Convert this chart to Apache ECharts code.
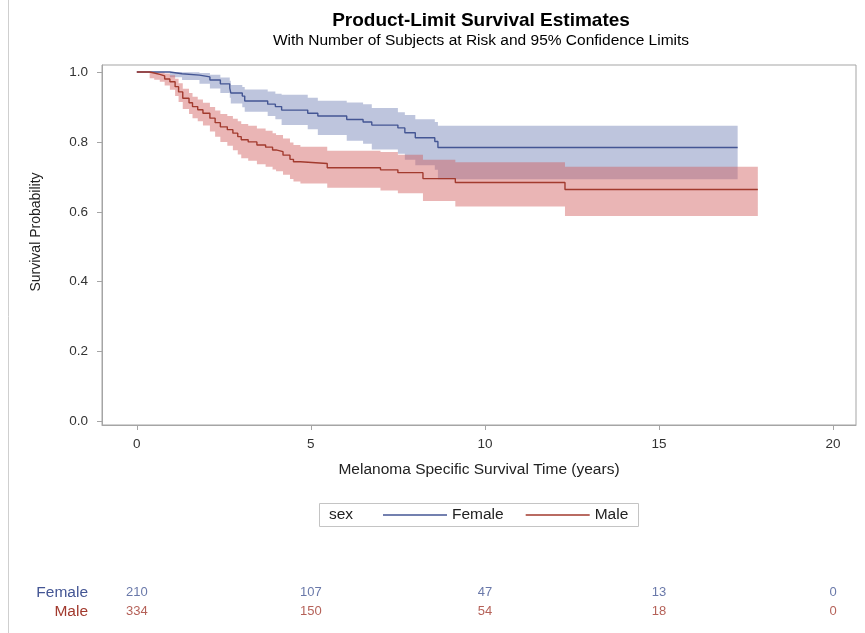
<!DOCTYPE html>
<html>
<head>
<meta charset="utf-8">
<script src="https://cdn.jsdelivr.net/npm/echarts@6/dist/echarts.min.js"></script>
<style>
  html, body { margin: 0; padding: 0; background: #fff; }
  #chart { width: 865px; height: 633px; }
</style>
</head>
<body>
<div id="chart"></div>
<script>
// Product-limit (Kaplan-Meier) estimates by sex: step times in years,
// survival estimate and pointwise 95% confidence limits at each step.
const femaleTime  = [0, 0.95, 1.3, 1.8, 2.1, 2.4, 2.67, 2.7, 3.03, 3.1, 3.76, 3.98, 4.16, 4.91, 5.2, 6.03, 6.5, 6.75, 7.5, 7.7, 8.0, 8.56, 8.65, 17.26];
const femaleSurv  = [1, 0.995, 0.991, 0.986, 0.977, 0.966, 0.954, 0.940, 0.931, 0.917, 0.908, 0.901, 0.891, 0.882, 0.874, 0.864, 0.857, 0.848, 0.840, 0.826, 0.812, 0.801, 0.784, 0.784];
const femaleLower = [1, 0.985, 0.977, 0.966, 0.953, 0.940, 0.926, 0.910, 0.899, 0.886, 0.874, 0.865, 0.848, 0.836, 0.820, 0.803, 0.795, 0.778, 0.766, 0.749, 0.733, 0.720, 0.693, 0.693];
const femaleUpper = [1, 1.000, 0.999, 0.997, 0.992, 0.984, 0.975, 0.963, 0.957, 0.950, 0.944, 0.938, 0.935, 0.926, 0.918, 0.913, 0.908, 0.897, 0.885, 0.877, 0.865, 0.857, 0.846, 0.846];

const maleTime  = [0, 0.37, 0.5, 0.66, 0.8, 0.95, 1.1, 1.2, 1.32, 1.5, 1.6, 1.75, 1.9, 2.1, 2.25, 2.4, 2.6, 2.76, 2.9, 3.0, 3.2, 3.45, 3.7, 3.9, 4.0, 4.2, 4.4, 4.5, 4.7, 5.47, 7.0, 7.5, 8.22, 9.15, 12.3, 17.84];
const maleSurv  = [1, 0.997, 0.993, 0.989, 0.980, 0.972, 0.958, 0.943, 0.925, 0.912, 0.901, 0.892, 0.882, 0.868, 0.855, 0.843, 0.835, 0.825, 0.815, 0.806, 0.800, 0.791, 0.785, 0.777, 0.772, 0.762, 0.750, 0.743, 0.738, 0.726, 0.720, 0.712, 0.695, 0.684, 0.664, 0.664];
const maleLower = [1, 0.982, 0.978, 0.972, 0.961, 0.949, 0.931, 0.914, 0.894, 0.880, 0.868, 0.859, 0.847, 0.830, 0.815, 0.800, 0.789, 0.776, 0.764, 0.753, 0.746, 0.736, 0.729, 0.721, 0.716, 0.706, 0.694, 0.687, 0.681, 0.669, 0.661, 0.653, 0.631, 0.615, 0.588, 0.588];
const maleUpper = [1, 1.000, 0.999, 0.999, 0.996, 0.991, 0.981, 0.968, 0.952, 0.940, 0.929, 0.921, 0.912, 0.900, 0.890, 0.880, 0.874, 0.866, 0.859, 0.851, 0.846, 0.838, 0.832, 0.825, 0.820, 0.810, 0.798, 0.791, 0.786, 0.775, 0.771, 0.763, 0.749, 0.742, 0.729, 0.729];

// Number of subjects at risk
const atRiskTimes  = [0, 5, 10, 15, 20];
const femaleAtRisk = [210, 107, 47, 13, 0];
const maleAtRisk   = [334, 150, 54, 18, 0];
const groups = ['Female', 'Male'];

const xTicks = [0, 5, 10, 15, 20];
const yTicks = [0, 0.2, 0.4, 0.6, 0.8, 1.0];

const FONT = '"Liberation Sans", Arial, Helvetica, sans-serif';
const BLUE = '#445694';
const RED = '#A23A2E';
const BLUE_FILL = 'rgba(111,126,179,0.45)';
const RED_FILL = 'rgba(208,91,91,0.45)';
const FRAME = '#a5a5a5';

const pairs = (xs, ys) => xs.map((x, i) => [x, ys[i]]);

// Confidence band as one step-shaped polygon placed through the axis scales.
function band(name, time, lower, upper, fill) {
  return {
    name: name + ' 95% CL', type: 'custom', silent: true, z: 1,
    data: [[time[0], lower[0]]],
    renderItem: (params, api) => {
      const pts = [];
      for (let i = 0; i < time.length; i++) {
        if (i > 0) pts.push(api.coord([time[i], upper[i - 1]]));
        pts.push(api.coord([time[i], upper[i]]));
      }
      for (let i = time.length - 1; i >= 0; i--) {
        pts.push(api.coord([time[i], lower[i]]));
        if (i > 0) pts.push(api.coord([time[i], lower[i - 1]]));
      }
      return { type: 'polygon', shape: { points: pts }, style: { fill: fill, stroke: null } };
    }
  };
}

const chart = echarts.init(document.getElementById('chart'), null, { renderer: 'canvas' });

chart.setOption({
  animation: false,
  backgroundColor: '#fff',
  textStyle: { fontFamily: FONT },
  title: [
    {
      text: 'Product-Limit Survival Estimates', left: 481, top: 11, textAlign: 'center', padding: 0,
      textStyle: { fontFamily: FONT, fontSize: 19, fontWeight: 'bold', color: '#000' }
    },
    {
      text: 'With Number of Subjects at Risk and 95% Confidence Limits', left: 481, top: 33, textAlign: 'center', padding: 0,
      textStyle: { fontFamily: FONT, fontSize: 15.5, fontWeight: 'normal', color: '#000' }
    }
  ],
  legend: {
    data: groups, left: 383, top: 507, padding: 0,
    icon: 'rect', itemWidth: 64, itemHeight: 1.4, itemGap: 22,
    textStyle: { fontFamily: FONT, fontSize: 15.5, color: '#222' }
  },
  grid: [
    { left: 102, right: 9, top: 65, bottom: 208, show: true, borderColor: FRAME, borderWidth: 1, backgroundColor: 'transparent' },
    { left: 102, right: 9, top: 583, height: 38 }
  ],
  xAxis: [
    {
      type: 'value', gridIndex: 0, min: -1, max: 20.66,
      name: 'Melanoma Specific Survival Time (years)', nameLocation: 'middle', nameGap: 37,
      nameTextStyle: { fontFamily: FONT, fontSize: 15.5, color: '#222' },
      axisLine: { show: true, onZero: false, lineStyle: { color: FRAME } },
      axisTick: { show: true, length: 5, customValues: xTicks, lineStyle: { color: FRAME } },
      axisLabel: { customValues: xTicks, margin: 12, fontFamily: FONT, fontSize: 13.5, color: '#333' },
      splitLine: { show: false }
    },
    {
      type: 'value', gridIndex: 1, min: -1, max: 20.66, show: false
    }
  ],
  yAxis: [
    {
      type: 'value', gridIndex: 0, min: -0.010, max: 1.020,
      name: 'Survival Probability', nameLocation: 'middle', nameGap: 59,
      nameTextStyle: { fontFamily: FONT, fontSize: 14, color: '#222', padding: [0, 0, 0, 26] },
      axisLine: { show: true, onZero: false, lineStyle: { color: FRAME } },
      axisTick: { show: true, length: 5, customValues: yTicks, lineStyle: { color: FRAME } },
      axisLabel: {
        customValues: yTicks, margin: 14, fontFamily: FONT, fontSize: 13.5, color: '#333',
        formatter: v => v.toFixed(1)
      },
      splitLine: { show: false }
    },
    {
      type: 'category', gridIndex: 1, data: groups, inverse: true,
      axisLine: { show: false }, axisTick: { show: false }, splitLine: { show: false },
      axisLabel: {
        interval: 0, margin: 14, fontFamily: FONT, fontSize: 15.5,
        color: v => (v === 'Female' ? BLUE : RED)
      }
    }
  ],
  graphic: [
    { type: 'line', shape: { x1: 8.5, y1: 0, x2: 8.5, y2: 633 }, style: { stroke: '#cfcfcf', lineWidth: 1 }, silent: true },
    { type: 'rect', shape: { x: 319.5, y: 503.5, width: 319, height: 23 }, style: { fill: 'none', stroke: '#c4c4c4', lineWidth: 1 }, silent: true },
    { type: 'text', left: 329, top: 507, style: { text: 'sex', font: '15.5px ' + FONT, fill: '#222' }, silent: true }
  ],
  series: [
    band('Female', femaleTime, femaleLower, femaleUpper, BLUE_FILL),
    band('Male', maleTime, maleLower, maleUpper, RED_FILL),
    {
      name: 'Female', type: 'line', step: 'end', data: pairs(femaleTime, femaleSurv),
      symbol: 'none', color: BLUE, lineStyle: { color: BLUE, width: 1.4 }, z: 3
    },
    {
      name: 'Male', type: 'line', step: 'end', data: pairs(maleTime, maleSurv),
      symbol: 'none', color: RED, lineStyle: { color: RED, width: 1.4 }, z: 3
    },
    {
      name: 'Female at risk', type: 'scatter', xAxisIndex: 1, yAxisIndex: 1,
      data: atRiskTimes.map((t, i) => [t, 'Female', femaleAtRisk[i]]),
      symbolSize: 1, itemStyle: { color: 'rgba(0,0,0,0)' }, silent: true,
      label: { show: true, position: 'inside', formatter: p => String(p.value[2]), fontFamily: FONT, fontSize: 13, color: BLUE }
    },
    {
      name: 'Male at risk', type: 'scatter', xAxisIndex: 1, yAxisIndex: 1,
      data: atRiskTimes.map((t, i) => [t, 'Male', maleAtRisk[i]]),
      symbolSize: 1, itemStyle: { color: 'rgba(0,0,0,0)' }, silent: true,
      label: { show: true, position: 'inside', formatter: p => String(p.value[2]), fontFamily: FONT, fontSize: 13, color: RED }
    }
  ]
});
</script>
</body>
</html>
